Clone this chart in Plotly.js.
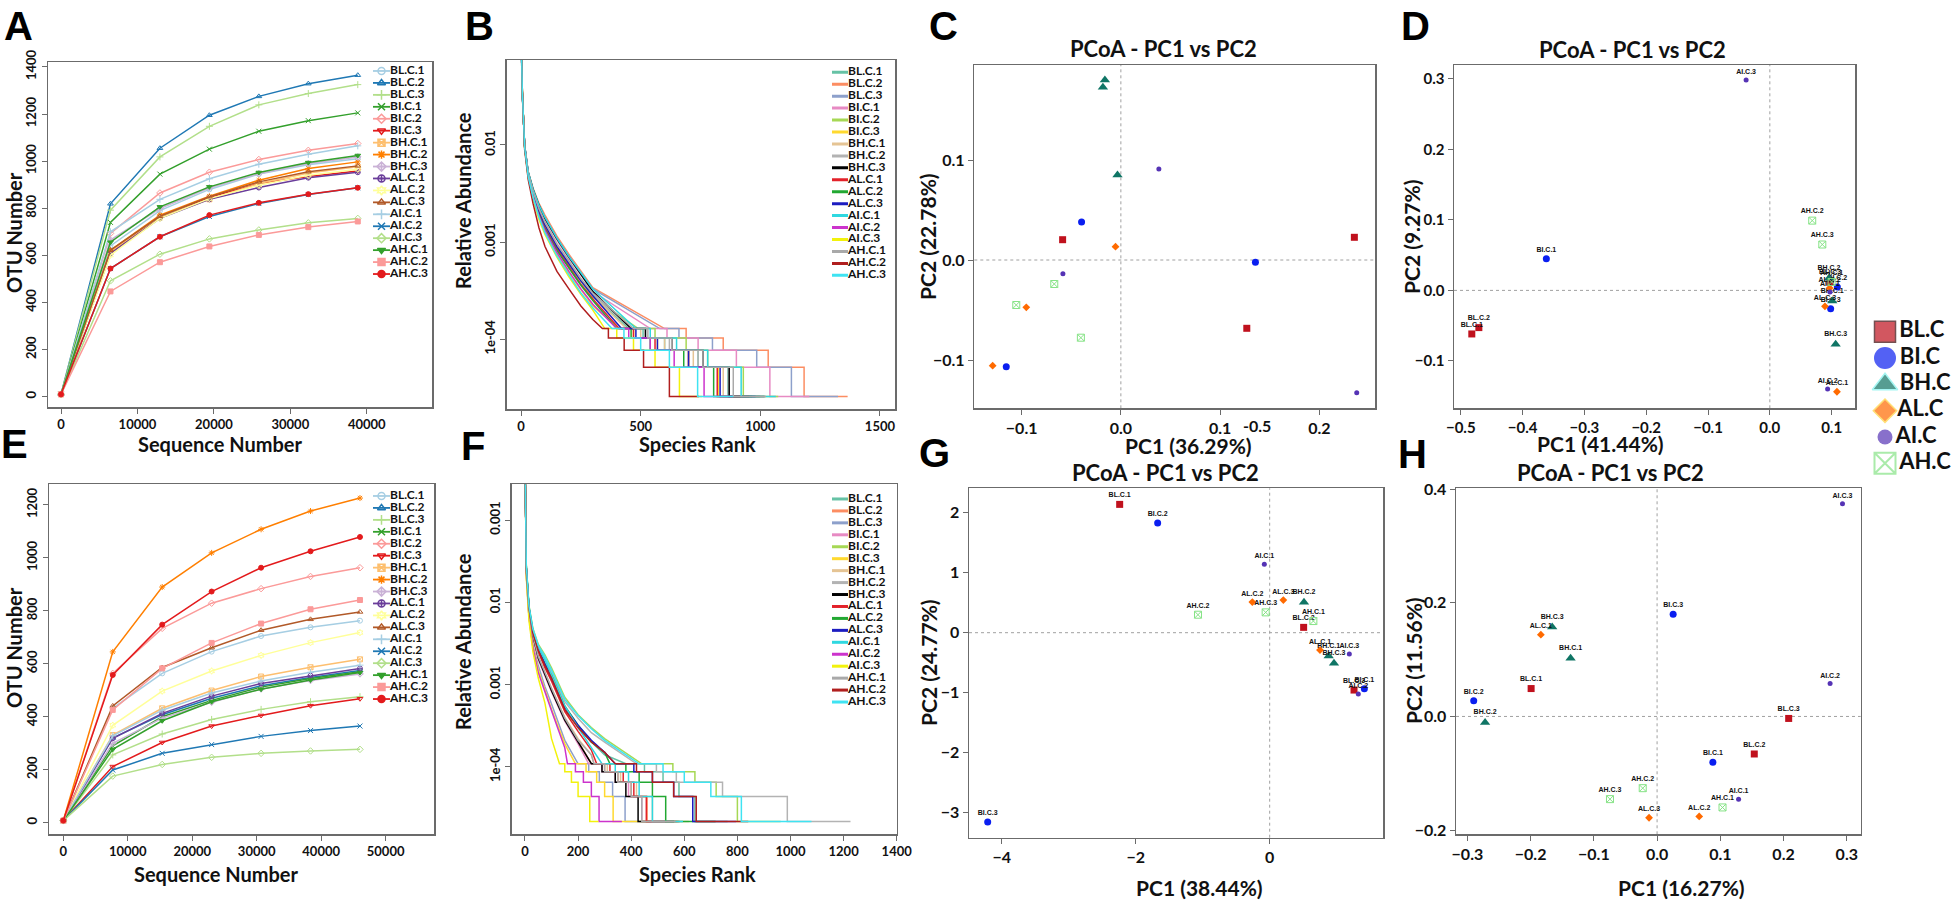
<!DOCTYPE html>
<html><head><meta charset="utf-8">
<script src="https://cdn.plot.ly/plotly-3.0.1.min.js"></script>
<style>html,body{margin:0;padding:0;background:#fff;} #chart{width:1953px;height:902px;}</style>
</head><body><div id="chart"></div>
<script>
// ---------------- DATA ----------------
const samples = ['BL.C.1','BL.C.2','BL.C.3','BI.C.1','BI.C.2','BI.C.3','BH.C.1','BH.C.2','BH.C.3','AL.C.1','AL.C.2','AL.C.3','AI.C.1','AI.C.2','AI.C.3','AH.C.1','AH.C.2','AH.C.3'];
const groups = ['BL.C','BI.C','BH.C','AL.C','AI.C','AH.C'];

// Panel A: rarefaction
const seqDepthA = [0, 6470, 12940, 19410, 25880, 32350, 38820];
const otuA = [
  [10, 640, 790, 880, 945, 985, 1010],
  [10, 819, 1055, 1195, 1275, 1329, 1365],
  [10, 792, 1018, 1148, 1239, 1287, 1325],
  [10, 740, 945, 1051, 1127, 1172, 1205],
  [10, 693, 865, 953, 1007, 1046, 1075],
  [10, 610, 760, 846, 905, 935, 958],
  [10, 615, 763, 838, 905, 950, 976],
  [10, 622, 771, 851, 919, 969, 997],
  [10, 665, 799, 887, 947, 990, 1018],
  [10, 608, 757, 838, 888, 930, 953],
  [10, 601, 757, 841, 898, 940, 966],
  [10, 622, 766, 849, 912, 955, 980],
  [10, 700, 838, 925, 987, 1029, 1065],
  [10, 544, 679, 765, 820, 858, 887],
  [10, 492, 605, 670, 708, 738, 757],
  [10, 656, 806, 891, 952, 994, 1024],
  [10, 447, 571, 638, 687, 720, 744],
  [10, 544, 679, 771, 823, 860, 887]
];
// Panel E: rarefaction
const seqDepthE = [0, 7670, 15340, 23010, 30680, 38350, 46020];
const otuE = [
  [8, 432, 564, 646, 705, 738, 763],
  [8, 320, 408, 470, 517, 548, 575],
  [8, 256, 335, 390, 428, 457, 476],
  [8, 290, 400, 462, 512, 545, 570],
  [8, 564, 734, 829, 884, 930, 963],
  [8, 212, 303, 365, 405, 442, 468],
  [8, 331, 432, 499, 552, 587, 617],
  [8, 645, 890, 1019, 1108, 1177, 1226],
  [8, 300, 395, 455, 505, 537, 562],
  [8, 319, 413, 478, 526, 555, 582],
  [8, 368, 497, 573, 632, 680, 718],
  [8, 441, 586, 661, 727, 768, 796],
  [8, 328, 425, 490, 535, 568, 595],
  [8, 199, 262, 295, 326, 348, 365],
  [8, 176, 220, 247, 262, 271, 277],
  [8, 277, 385, 457, 504, 539, 567],
  [8, 426, 583, 679, 752, 806, 841],
  [8, 558, 748, 873, 963, 1025, 1079]
];

// Panels B & F: rank abundance (upper curve at rank grid, then step tail)
const rankGrid = [1, 5, 15, 30, 50, 75, 100, 150, 200, 250, 300];
const abundB = [
  [0.12, 0.036, 0.0097, 0.005, 0.0032, 0.0021, 0.0015, 0.0009, 0.0006, 0.0004, 0.00028],
  [0.11, 0.033, 0.0099, 0.0053, 0.0036, 0.0025, 0.0019, 0.00115, 0.00075, 0.0005, 0.00034],
  [0.11, 0.034, 0.0098, 0.0052, 0.0035, 0.0024, 0.0018, 0.0011, 0.00072, 0.00048, 0.00033],
  [0.12, 0.034, 0.0097, 0.0051, 0.0034, 0.0023, 0.0017, 0.00105, 0.00068, 0.00046, 0.00031],
  [0.13, 0.036, 0.0096, 0.0049, 0.0031, 0.002, 0.00145, 0.00088, 0.00058, 0.00039, 0.00027],
  [0.14, 0.038, 0.0094, 0.0047, 0.0029, 0.0018, 0.0013, 0.00075, 0.00048, 0.00032, 0.00022],
  [0.13, 0.035, 0.0097, 0.005, 0.0032, 0.0021, 0.0015, 0.00092, 0.00061, 0.0004, 0.00028],
  [0.12, 0.035, 0.0098, 0.0051, 0.0033, 0.0022, 0.0016, 0.00095, 0.00063, 0.00042, 0.00029],
  [0.12, 0.035, 0.0099, 0.0052, 0.0035, 0.0024, 0.00175, 0.00108, 0.0007, 0.00046, 0.00031],
  [0.13, 0.037, 0.0096, 0.0049, 0.0031, 0.002, 0.0014, 0.00085, 0.00056, 0.00037, 0.00026],
  [0.13, 0.037, 0.0095, 0.0048, 0.003, 0.0019, 0.00135, 0.00082, 0.00054, 0.00036, 0.00025],
  [0.12, 0.036, 0.0097, 0.005, 0.0032, 0.0021, 0.0015, 0.0009, 0.0006, 0.0004, 0.00028],
  [0.11, 0.034, 0.01, 0.0053, 0.0035, 0.0024, 0.0018, 0.0011, 0.00071, 0.00048, 0.00033],
  [0.14, 0.038, 0.0095, 0.0047, 0.0029, 0.00185, 0.00132, 0.00078, 0.0005, 0.00033, 0.00023],
  [0.14, 0.039, 0.0093, 0.0046, 0.0028, 0.0017, 0.0012, 0.0007, 0.00044, 0.00029, 0.0002],
  [0.12, 0.035, 0.0098, 0.0051, 0.0033, 0.0022, 0.0016, 0.00096, 0.00064, 0.00042, 0.0003],
  [0.15, 0.04, 0.009, 0.0044, 0.0025, 0.0014, 0.0009, 0.0005, 0.00033, 0.00022, 0.00016],
  [0.14, 0.038, 0.0094, 0.0047, 0.0029, 0.0018, 0.00125, 0.00072, 0.00046, 0.0003, 0.00021]
];
// ranks where abundance falls to 5,4,3,2,1 reads, and last rank
const tailRanksB = [
  [450, 510, 600, 740, 865, 1000],
  [600, 690, 845, 1033, 1183, 1365],
  [580, 660, 800, 985, 1130, 1325],
  [540, 610, 740, 900, 1040, 1205],
  [490, 560, 690, 780, 929, 1075],
  [410, 470, 570, 700, 825, 958],
  [440, 500, 600, 720, 845, 976],
  [460, 520, 620, 740, 867, 997],
  [460, 520, 630, 760, 870, 1018],
  [410, 470, 560, 700, 820, 953],
  [400, 460, 540, 680, 805, 966],
  [420, 480, 570, 700, 832, 980],
  [480, 540, 650, 780, 920, 1065],
  [400, 450, 540, 640, 765, 887],
  [350, 400, 470, 560, 662, 757],
  [470, 530, 630, 760, 887, 1024],
  [340, 365, 431, 512, 620, 744],
  [380, 430, 500, 620, 738, 887]
];
const tailLevelsB = [1.29e-4, 1.03e-4, 7.7e-5, 5.15e-5, 2.58e-5];

const abundF = [
  [0.35, 0.026, 0.0086, 0.0043, 0.0027, 0.0017, 0.0012, 0.0005, 0.0003, 0.0002, 0.00014],
  [0.35, 0.025, 0.0079, 0.0038, 0.0021, 0.0013, 0.00085, 0.00038, 0.0002],
  [0.35, 0.022, 0.0071, 0.003, 0.0017, 0.00095, 0.00058, 0.00021],
  [0.35, 0.024, 0.0078, 0.0037, 0.002, 0.00125, 0.00082, 0.00036, 0.00019],
  [0.35, 0.029, 0.0092, 0.0048, 0.0031, 0.0023, 0.0016, 0.0007, 0.00043, 0.0003, 0.00022],
  [0.35, 0.021, 0.0068, 0.0029, 0.0015, 0.00085, 0.0005, 0.00019],
  [0.35, 0.025, 0.008, 0.0039, 0.0022, 0.0014, 0.0009, 0.0004, 0.00022, 0.00014],
  [0.35, 0.027, 0.0088, 0.0046, 0.0029, 0.0021, 0.0014, 0.00062, 0.00039, 0.00026, 0.0002],
  [0.35, 0.025, 0.0081, 0.0039, 0.0021, 0.0013, 0.00084, 0.00037, 0.0002],
  [0.35, 0.026, 0.0084, 0.0041, 0.0025, 0.0016, 0.0011, 0.00047, 0.00027, 0.00016],
  [0.35, 0.027, 0.0087, 0.0044, 0.0027, 0.0018, 0.0013, 0.00055, 0.00032, 0.0002, 0.00015],
  [0.35, 0.026, 0.0086, 0.0043, 0.0027, 0.0018, 0.00125, 0.00053, 0.00032, 0.00021, 0.00015],
  [0.35, 0.027, 0.0087, 0.0045, 0.0028, 0.002, 0.0013, 0.00055, 0.0003, 0.00017],
  [0.35, 0.022, 0.0066, 0.0028, 0.0014, 0.0008, 0.00048, 0.00017],
  [0.35, 0.02, 0.006, 0.0025, 0.0012, 0.0006, 0.00022],
  [0.35, 0.025, 0.0082, 0.004, 0.0022, 0.0014, 0.0009, 0.00039, 0.00021, 0.00014],
  [0.35, 0.026, 0.0085, 0.0042, 0.0026, 0.0017, 0.0012, 0.0005, 0.0003, 0.0002, 0.00015],
  [0.35, 0.028, 0.009, 0.0047, 0.003, 0.0022, 0.0015, 0.00066, 0.00042, 0.00029, 0.00021]
];
const tailRanksF = [
  [380, 450, 520, 580, 640, 763],
  [250, 300, 350, 400, 460, 575],
  [200, 240, 280, 330, 377, 476],
  [240, 290, 340, 390, 440, 570],
  [440, 557, 640, 720, 800, 963],
  [190, 230, 270, 300, 332, 468],
  [260, 310, 360, 420, 480, 617],
  [420, 495, 570, 744, 988, 1226],
  [250, 290, 340, 380, 426, 562],
  [270, 320, 370, 410, 457, 582],
  [320, 380, 430, 480, 530, 718],
  [340, 410, 480, 560, 632, 796],
  [290, 340, 390, 430, 480, 595],
  [160, 190, 220, 250, 279, 365],
  [130, 150, 175, 200, 244, 277],
  [260, 300, 350, 400, 440, 567],
  [340, 420, 480, 560, 645, 841],
  [430, 520, 600, 700, 815, 1079]
];
const tailLevelsF = [1.09e-4, 8.7e-5, 6.5e-5, 4.35e-5, 2.17e-5];

// PCoA coordinates (sample order as in `samples`)
const pcC_x = [-0.0587, 0.2353, 0.1269, -0.0396, 0.1356, -0.1155, -0.0161, -0.0181, -0.0034, -0.0054, -0.0953, -0.1292, 0.0383, -0.0584, 0.2377, -0.0671, -0.1054, -0.0403];
const pcC_y = [0.0203, 0.0227, -0.0683, 0.038, -0.0023, -0.1067, 0.18, 0.1727, 0.085, 0.0133, -0.0473, -0.1057, 0.091, -0.0137, -0.1327, -0.024, -0.045, -0.0777];
const pcD_x = [-0.4822, -0.4708, 0.0973, -0.3616, 0.1092, 0.0984, 0.101, 0.0957, 0.1065, 0.1086, 0.0968, 0.0892, 0.0973, 0.0935, -0.0384, 0.1, 0.0686, 0.0849];
const pcD_y = [-0.0618, -0.0528, 0.0127, 0.0448, 0.0047, -0.0259, -0.0151, 0.0174, -0.0764, -0.1438, 0.0033, -0.0226, -0.0024, -0.14, 0.2984, 0.012, 0.099, 0.0651];
const pcG_x = [-2.239, 0.507, 1.259, 1.413, -1.672, -4.209, 0.881, 0.512, 0.96, 0.751, -0.259, 0.204, -0.08, 1.323, 1.189, 0.652, -1.07, -0.06];
const pcG_y = [2.139, 0.089, -0.956, -0.933, 1.828, -3.156, -0.389, 0.506, -0.511, -0.289, 0.511, 0.544, 1.139, -1.022, -0.356, 0.194, 0.3, 0.339];
const pcH_x = [-0.1992, 0.1537, 0.2081, 0.0882, -0.29, 0.0254, -0.1368, -0.272, -0.1659, -0.1838, 0.0666, -0.0127, 0.1289, 0.2736, 0.2932, 0.1035, -0.0227, -0.0745];
const pcH_y = [0.0491, -0.0661, -0.0035, -0.0807, 0.0275, 0.1801, 0.1023, -0.0105, 0.1573, 0.1439, -0.176, -0.1784, -0.1456, 0.0579, 0.3743, -0.1602, -0.1263, -0.1456];

// ---------------- STYLES ----------------
const pairedColors = ['#a6cee3','#1f78b4','#b2df8a','#33a02c','#fb9a99','#e31a1c','#fdbf6f','#ff7f00','#cab2d6','#6a3d9a','#ffff99','#b15928','#a6cee3','#1f78b4','#b2df8a','#33a02c','#fb9a99','#e31a1c'];
const rareSymbols = ['circle-open','triangle-up-open','cross-thin-open','x-thin-open','diamond-open','triangle-down-open','square-x-open','asterisk-open','diamond-cross-open','circle-cross-open','hexagram-open','triangle-up-open','cross-thin-open','x-thin-open','diamond-open','triangle-down','square','circle'];
const rankColors = ['#66c2a5','#fc8d62','#8da0cb','#e78ac3','#a6d854','#ffd92f','#e5c494','#b3b3b3','#000000','#e3222a','#22a832','#1c1cc0','#2fd8e0','#cc33cc','#f2f20c','#a9a9a9','#b01e1e','#3fe3f2'];
const groupColors = ['#c0111d','#0a1ef0','#0f7565','#ff6a00','#5533b5','#86e386'];
const groupSymbols = ['square','circle','triangle-up','diamond','circle','square-x-open'];
const groupSizes = [7, 7, 9, 6, 5, 7];

const W = 1953, H = 902;
const FONT = 'Lato, "Open Sans", sans-serif';
const ARIAL = '"Liberation Sans", Arial, sans-serif';
function xd(a, b) { return [a / W, b / W]; }
function yd(top, bottom) { return [1 - bottom / H, 1 - top / H]; }

const traces = [];

// rarefaction panels
function addRarefaction(xs, rows, xa, ya) {
  samples.forEach((s, i) => traces.push({
    type: 'scatter', mode: 'lines+markers', x: xs, y: rows[i], xaxis: xa, yaxis: ya, name: s,
    line: { color: pairedColors[i], width: 1.5 },
    marker: { symbol: rareSymbols[i], size: 5, color: pairedColors[i], line: { color: pairedColors[i], width: 1 } }
  }));
}
addRarefaction(seqDepthA, otuA, 'x', 'y');
addRarefaction(seqDepthE, otuE, 'x5', 'y5');

// rank abundance panels
function addRank(abund, tails, levels, xa, ya) {
  samples.forEach((s, i) => {
    const up = abund[i], t = tails[i];
    const x = rankGrid.slice(0, up.length), y = up.slice();
    x.push(t[0]); y.push(levels[0]);
    for (let k = 1; k <= 4; k++) { x.push(t[k]); y.push(levels[k - 1]); x.push(t[k]); y.push(levels[k]); }
    x.push(t[5]); y.push(levels[4]);
    traces.push({ type: 'scatter', mode: 'lines', x: x, y: y, xaxis: xa, yaxis: ya, name: s,
      line: { color: rankColors[i], width: 1.5 } });
  });
}
addRank(abundB, tailRanksB, tailLevelsB, 'x2', 'y2');
addRank(abundF, tailRanksF, tailLevelsF, 'x6', 'y6');

// PCoA panels
function addPcoa(px, py, xa, ya, withLabels) {
  groups.forEach((g, gi) => {
    const idx = samples.map((s, i) => i).filter(i => samples[i].slice(0, 4) === g);
    traces.push({
      type: 'scatter', mode: withLabels ? 'markers+text' : 'markers', xaxis: xa, yaxis: ya, name: g,
      x: idx.map(i => px[i]), y: idx.map(i => py[i]), text: idx.map(i => samples[i]),
      textposition: 'top center', cliponaxis: false,
      textfont: { family: ARIAL, size: 7, color: '#111', weight: 'bold' },
      marker: { symbol: groupSymbols[gi], size: groupSizes[gi], color: groupColors[gi], line: { color: groupColors[gi], width: gi === 5 ? 1 : 0 } }
    });
  });
}
addPcoa(pcC_x, pcC_y, 'x3', 'y3', false);
addPcoa(pcD_x, pcD_y, 'x4', 'y4', true);
addPcoa(pcG_x, pcG_y, 'x7', 'y7', true);
addPcoa(pcH_x, pcH_y, 'x8', 'y8', true);

// custom in-plot legends (drawn on hidden axes so the row spacing matches)
function addSampleLegend(xa, ya, colors, withMarkers, lineW) {
  samples.forEach((s, i) => traces.push({ type: 'scatter', mode: 'lines', x: [0, 1], y: [s, s], xaxis: xa, yaxis: ya,
    line: { color: colors[i], width: lineW }, hoverinfo: 'skip', cliponaxis: false }));
  if (withMarkers) traces.push({ type: 'scatter', mode: 'markers', x: samples.map(() => 0.5), y: samples, xaxis: xa, yaxis: ya,
    marker: { symbol: rareSymbols, size: 7, color: colors, line: { color: colors, width: 1.5 } }, hoverinfo: 'skip', cliponaxis: false });
  traces.push({ type: 'scatter', mode: 'text', x: samples.map(() => 1), y: samples, text: samples, xaxis: xa, yaxis: ya,
    textposition: 'middle right', cliponaxis: false, hoverinfo: 'skip',
    textfont: { family: FONT, size: 12, color: '#111', weight: 'bold' } });
}
addSampleLegend('x9', 'y9', pairedColors, true, 1.8);
addSampleLegend('x10', 'y10', rankColors, false, 3);
addSampleLegend('x11', 'y11', pairedColors, true, 1.8);
addSampleLegend('x12', 'y12', rankColors, false, 3);

traces.push({ type: 'scatter', mode: 'markers+text', x: groups.map(() => 0), y: groups, text: groups, xaxis: 'x13', yaxis: 'y13',
  textposition: 'middle right', cliponaxis: false, hoverinfo: 'skip',
  textfont: { family: FONT, size: 22, color: '#111', weight: 'bold' },
  marker: { symbol: groupSymbols, size: [21, 22, 22, 18, 15, 21], color: groupColors,
    line: { color: ['#3a0608', '#0a1ef0', '#7ff2ee', '#ffd23a', '#5533b5', '#86e386'], width: [1.5, 0, 1.5, 1.5, 0, 2] } } });

// ---------------- LAYOUT ----------------
const axisBase = { showline: true, mirror: true, linecolor: '#6b6b6b', linewidth: 1.5, ticks: 'outside', ticklen: 5,
  tickcolor: '#6b6b6b', showgrid: false, zeroline: false, fixedrange: true,
  tickfont: { family: FONT, size: 13, color: '#111', weight: 'bold' } };
function ax(extra, size) {
  const a = Object.assign({}, axisBase, extra);
  if (size) a.tickfont = Object.assign({}, axisBase.tickfont, { size: size });
  return a;
}
function hidden(dom, range, cat) {
  const a = { visible: false, domain: dom, fixedrange: true };
  if (cat) { a.type = 'category'; a.categoryorder = 'array'; a.categoryarray = cat; a.range = [cat.length - 0.5, -0.5]; }
  else a.range = range;
  return a;
}

const layout = {
  width: W, height: H, margin: { l: 0, r: 0, t: 0, b: 0 }, showlegend: false,
  paper_bgcolor: '#fff', plot_bgcolor: '#fff',
  // A
  xaxis: ax({ domain: xd(48, 432), range: [-1700, 48530], tickvals: [0, 10000, 20000, 30000, 40000], tickformat: 'd', anchor: 'y' }),
  yaxis: ax({ domain: yd(62, 407.3), range: [-45, 1421], tickvals: [0, 200, 400, 600, 800, 1000, 1200, 1400], tickangle: -90, anchor: 'x' }),
  // B
  xaxis2: ax({ domain: xd(506.7, 895), range: [-60, 1563], tickvals: [0, 500, 1000, 1500], anchor: 'y2' }),
  yaxis2: ax({ domain: yd(60, 409.3), type: 'log', range: [-4.72, -1.126], tickvals: [0.01, 0.001, 0.0001], ticktext: ['0.01', '0.001', '1e-04'], tickangle: -90, anchor: 'x2' }),
  // C
  xaxis3: ax({ domain: xd(974.3, 1375), range: [-0.1477, 0.2561], tickvals: [-0.1, 0, 0.1, 0.2], tickformat: '.1f', anchor: 'y3' }, 16),
  yaxis3: ax({ domain: yd(65, 408.3), range: [-0.1483, 0.195], tickvals: [-0.1, 0, 0.1], tickformat: '.1f', anchor: 'x3' }, 16),
  // D
  xaxis4: ax({ domain: xd(1454, 1855), range: [-0.511, 0.1378], tickvals: [-0.5, -0.4, -0.3, -0.2, -0.1, 0, 0.1], tickformat: '.1f', anchor: 'y4' }, 15),
  yaxis4: ax({ domain: yd(65, 408.3), range: [-0.1673, 0.3198], tickvals: [-0.1, 0, 0.1, 0.2, 0.3], tickformat: '.1f', anchor: 'x4' }, 15),
  // E
  xaxis5: ax({ domain: xd(49, 434.3), range: [-2220, 57550], tickvals: [0, 10000, 20000, 30000, 40000, 50000], tickformat: 'd', anchor: 'y5' }),
  yaxis5: ax({ domain: yd(484.3, 834.3), range: [-43.8, 1278], tickvals: [0, 200, 400, 600, 800, 1000, 1200], tickangle: -90, anchor: 'x5' }),
  // F
  xaxis6: ax({ domain: xd(511.7, 896.7), range: [-50, 1400], tickvals: [0, 200, 400, 600, 800, 1000, 1200, 1400], anchor: 'y6' }),
  yaxis6: ax({ domain: yd(484.3, 834.3), type: 'log', range: [-4.82, -0.566], tickvals: [0.1, 0.01, 0.001, 0.0001], ticktext: ['0.001', '0.01', '0.001', '1e-04'], tickangle: -90, anchor: 'x6' }),
  // G
  xaxis7: ax({ domain: xd(969, 1383.3), range: [-4.488, 1.696], tickvals: [-4, -2, 0], anchor: 'y7' }, 16),
  yaxis7: ax({ domain: yd(488.3, 837.7), range: [-3.417, 2.407], tickvals: [-3, -2, -1, 0, 1, 2], anchor: 'x7' }, 16),
  // H
  xaxis8: ax({ domain: xd(1456, 1860.7), range: [-0.318, 0.322], tickvals: [-0.3, -0.2, -0.1, 0, 0.1, 0.2, 0.3], tickformat: '.1f', anchor: 'y8' }, 16),
  yaxis8: ax({ domain: yd(488.3, 834.3), range: [-0.2075, 0.4017], tickvals: [-0.2, 0, 0.2, 0.4], tickformat: '.1f', anchor: 'x8' }, 16),
  // legends
  xaxis9: hidden(xd(373, 390), [0, 1]), yaxis9: hidden(yd(65, 280), null, samples),
  xaxis10: hidden(xd(832, 848), [0, 1]), yaxis10: hidden(yd(66.3, 281.3), null, samples),
  xaxis11: hidden(xd(373, 390), [0, 1]), yaxis11: hidden(yd(490, 705), null, samples),
  xaxis12: hidden(xd(832, 848), [0, 1]), yaxis12: hidden(yd(493, 708), null, samples),
  xaxis13: hidden(xd(1870, 1900), [-1, 1]), yaxis13: hidden(yd(318.5, 476.5), null, groups),
  shapes: [], annotations: []
};
for (let k = 9; k <= 13; k++) { layout['xaxis' + k].anchor = 'y' + k; layout['yaxis' + k].anchor = 'x' + k; }

// dotted zero reference lines for PCoA panels
['3', '4', '7', '8'].forEach(n => {
  layout.shapes.push({ type: 'line', layer: 'below', xref: 'x' + n, yref: 'y' + n + ' domain', x0: 0, x1: 0, y0: 0, y1: 1, line: { color: '#a0a0a0', width: 1, dash: 'dot' } });
  layout.shapes.push({ type: 'line', layer: 'below', xref: 'x' + n + ' domain', yref: 'y' + n, x0: 0, x1: 1, y0: 0, y1: 0, line: { color: '#a0a0a0', width: 1, dash: 'dot' } });
});

function ann(text, px, py, size, opts) {
  layout.annotations.push(Object.assign({ text: text, x: px / W, y: 1 - py / H, xref: 'paper', yref: 'paper', showarrow: false,
    xanchor: 'center', yanchor: 'middle', font: { family: FONT, size: size, color: '#111', weight: 'bold' } }, opts || {}));
}
// panel letters
const letterFont = { family: ARIAL, size: 40, color: '#000', weight: 'bold' };
[['A', 18, 26], ['B', 479, 26], ['C', 943, 26], ['D', 1415, 26], ['E', 14, 444], ['F', 473, 446], ['G', 934, 453], ['H', 1412, 454]]
  .forEach(l => ann(l[0], l[1], l[2], 40, { font: letterFont, borderpad: 0 }));
// titles
ann('PCoA - PC1 vs PC2', 1163, 48, 22);
ann('PCoA - PC1 vs PC2', 1632, 49, 22);
ann('PCoA - PC1 vs PC2', 1165, 472, 22);
ann('PCoA - PC1 vs PC2', 1610, 472, 22);
// x titles
ann('Sequence Number', 220, 444, 20);
ann('Species Rank', 697, 444, 20);
ann('PC1 (36.29%)', 1188, 445, 21);
ann('PC1 (41.44%)', 1600, 443, 21);
ann('Sequence Number', 216, 874, 20);
ann('Species Rank', 697, 874, 20);
ann('PC1 (38.44%)', 1199, 887, 21);
ann('PC1 (16.27%)', 1681, 887, 21);
// y titles
ann('OTU Number', 14, 233, 20, { textangle: -90 });
ann('Relative Abundance', 463, 201, 20, { textangle: -90 });
ann('PC2 (22.78%)', 928, 237, 21, { textangle: -90 });
ann('PC2 (9.27%)', 1412, 237, 21, { textangle: -90 });
ann('OTU Number', 14, 648, 20, { textangle: -90 });
ann('Relative Abundance', 463, 642, 20, { textangle: -90 });
ann('PC2 (24.77%)', 928, 663, 21, { textangle: -90 });
ann('PC2 (11.56%)', 1413, 661, 21, { textangle: -90 });
// stray tick label present in the figure
ann('-0.5', 1257, 425, 16);

Plotly.newPlot('chart', traces, layout, { staticPlot: true, displayModeBar: false });
</script></body></html>
